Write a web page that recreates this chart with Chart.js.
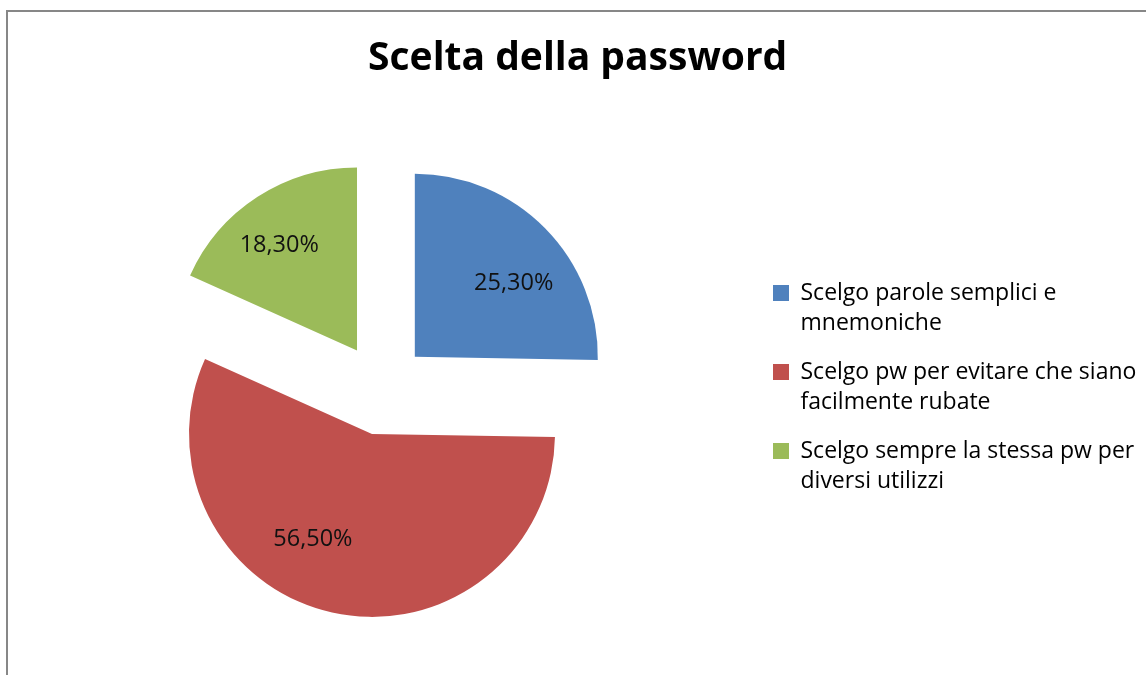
<!DOCTYPE html>
<html><head><meta charset="utf-8">
<script src="https://cdn.jsdelivr.net/npm/chart.js@4.4.1/dist/chart.umd.min.js"></script>
<style>
html,body{margin:0;padding:0;background:#fff;overflow:hidden;}
#wrap{position:relative;width:1146px;height:675px;overflow:hidden;}
#frame{position:absolute;left:6px;top:10px;width:1200px;height:700px;border:2px solid #878787;box-sizing:border-box;pointer-events:none;}
canvas{display:block;}
</style></head><body>
<div id="wrap"><canvas id="c" width="1146" height="675" style="width:1146px;height:675px"></canvas><div id="frame"></div></div>
<script>
const chartTitle = 'Scelta della password';
const categories = [
  'Scelgo parole semplici e mnemoniche',
  'Scelgo pw per evitare che siano facilmente rubate',
  'Scelgo sempre la stessa pw per diversi utilizzi'
];
const values = [25.3, 56.5, 18.3];
const colors = ['#4F81BD', '#C0504D', '#9BBB59'];

const FONT = '"Open Sans", Lato, sans-serif';
const LEG_SIZE = 23;
const EXPLODE = 46;
const LABEL_PLACE = [[0.675, 7.7], [0.654, 17], [0.719, -3.3]]; // radius fraction, angle nudge (deg)

function wrap(text, maxChars) {
  const words = text.split(' ');
  const lines = [];
  let cur = '';
  words.forEach(w => {
    const t = cur ? cur + ' ' + w : w;
    if (t.length > maxChars && cur) { lines.push(cur); cur = w; } else { cur = t; }
  });
  if (cur) lines.push(cur);
  return lines;
}
function fmt(v) { return v.toFixed(2).replace('.', ',') + '%'; }

// legend layout: box left edge at x=773
const legendLines = categories.map(c => wrap(c, 31));
const mctx = document.createElement('canvas').getContext('2d');
mctx.font = LEG_SIZE + 'px ' + FONT;
const maxW = Math.max(...legendLines.flat().map(l => mctx.measureText(l).width));
const legendW = 16 + LEG_SIZE / 2 + maxW + 18 + 10;
const padR = 1146 - 755 - legendW;

const explodePlugin = {
  id: 'explode',
  beforeDatasetsDraw(chart) {
    chart.getDatasetMeta(0).data.forEach(el => {
      if (el._exploded) return;
      el._exploded = true;
      const proto = Object.getPrototypeOf(el);
      el.draw = function (ctx) {
        const mid = (this.startAngle + this.endAngle) / 2;
        ctx.save();
        ctx.translate(Math.cos(mid) * EXPLODE, Math.sin(mid) * EXPLODE);
        proto.draw.call(this, ctx);
        ctx.restore();
      };
    });
  },
  afterDatasetsDraw(chart) {
    const ctx = chart.ctx;
    ctx.save();
    ctx.font = '23.5px ' + FONT;
    ctx.fillStyle = '#111';
    ctx.textAlign = 'center';
    ctx.textBaseline = 'middle';
    chart.getDatasetMeta(0).data.forEach((el, i) => {
      const mid = (el.startAngle + el.endAngle) / 2;
      const ax = el.x + Math.cos(mid) * EXPLODE, ay = el.y + Math.sin(mid) * EXPLODE;
      const [f, nudge] = LABEL_PLACE[i];
      const a = mid + nudge * Math.PI / 180;
      const r = el.outerRadius * f;
      ctx.fillText(fmt(values[i]), ax + Math.cos(a) * r, ay + Math.sin(a) * r + 1);
    });
    ctx.restore();
  }
};

new Chart(document.getElementById('c'), {
  type: 'pie',
  data: {
    labels: categories,
    datasets: [{ data: values, backgroundColor: colors, borderWidth: 0, radius: 183 }]
  },
  options: {
    responsive: false,
    animation: false,
    devicePixelRatio: 1,
    layout: { padding: { left: 9, right: padR, top: 0, bottom: 0 } },
    plugins: {
      title: {
        display: true, text: chartTitle, color: '#000',
        font: { family: FONT, size: 39, weight: 'bold', lineHeight: 1.2 },
        padding: { top: 35.6, bottom: 20.6 }
      },
      legend: {
        position: 'right',
        align: 'start',
        title: { display: true, text: ' ', font: { size: 10, lineHeight: 1 }, padding: { top: 293 - LEG_SIZE / 2 - 18 - 10, bottom: 0 } },
        labels: {
          color: '#000',
          font: { family: FONT, size: LEG_SIZE, lineHeight: 30.5 / LEG_SIZE },
          boxWidth: 16, boxHeight: 16, padding: 18,
          generateLabels() {
            return legendLines.map((lines, i) => ({
              text: lines, fillStyle: colors[i], strokeStyle: colors[i], fontColor: '#000',
              lineWidth: 0, hidden: false, index: i
            }));
          }
        }
      },
      tooltip: { enabled: false }
    }
  },
  plugins: [explodePlugin]
});
</script>
</body></html>
